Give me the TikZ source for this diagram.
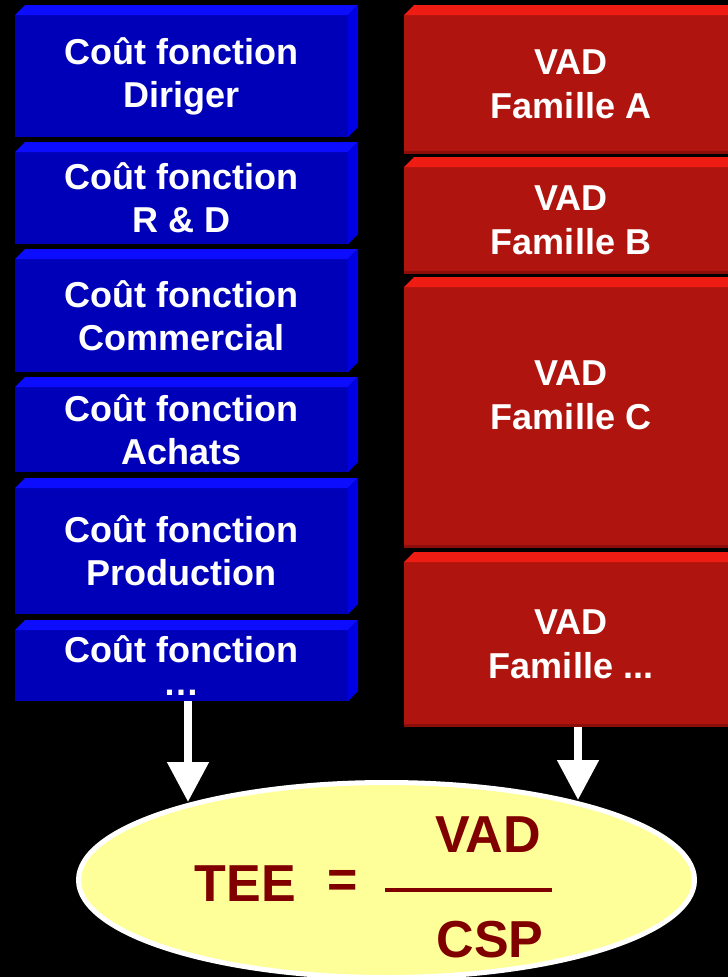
\documentclass[tikz,border=0pt]{standalone}
\usepackage{fontspec}
\setmainfont{Liberation Sans}
\usetikzlibrary{shapes.geometric,arrows.meta}

\definecolor{bluefront}{RGB}{0,0,184}
\definecolor{bluetop}{RGB}{12,12,255}
\definecolor{blueside}{RGB}{0,0,228}
\definecolor{redfront}{RGB}{176,20,14}
\definecolor{redtop}{RGB}{238,28,18}
\definecolor{rededge}{RGB}{140,14,10}
\definecolor{eqyellow}{RGB}{255,255,153}
\definecolor{eqred}{RGB}{128,0,0}

\begin{document}
\begin{tikzpicture}[x=1pt,y=-1pt,
	costbox/.style={fill=bluefront,anchor=north west,minimum width=333,inner sep=0,outer sep=0,text=white,font=\fontsize{36}{43}\selectfont\bfseries,align=center},
	vadbox/.style={fill=redfront,anchor=north west,minimum width=334,inner sep=0,outer sep=0,text=white,font=\fontsize{36}{44}\selectfont\bfseries,align=center},
	eqtext/.style={text=eqred,inner sep=0,font=\fontsize{52}{60}\selectfont\bfseries},
	bigarrow/.style={white,line width=8,-{Triangle[length=40pt,width=40pt]}}]
	\useasboundingbox (0,0) rectangle (728,977);
	\clip (0,0) rectangle (728,977);
	\fill[black] (0,0) rectangle (728,977);
	% cost functions
	\node[costbox,minimum height=122] (diriger) at (15,15) {Coût fonction\\Diriger};
	\node[costbox,minimum height=92] (rd) at (15,152) {Coût fonction\\R \& D};
	\node[costbox,minimum height=113] (commercial) at (15,259) {Coût fonction\\Commercial};
	\node[costbox,minimum height=85] (achats) at (15,387) {Coût fonction\\Achats};
	\node[costbox,minimum height=126] (production) at (15,488) {Coût fonction\\Production};
	\node[costbox,minimum height=71] (etc) at (15,630) {Coût fonction\\[-10pt]…};
	\foreach \b in {diriger,rd,commercial,achats,production,etc}{
		\fill[bluetop] (\b.north west) -- ++(10,-10) -- ([xshift=10pt,yshift=10pt]\b.north east) -- (\b.north east) -- cycle;
		\fill[blueside] (\b.north east) -- ++(10,-10) -- ([xshift=10pt,yshift=10pt]\b.south east) -- (\b.south east) -- cycle;
	}
	% families
	\node[vadbox,minimum height=139] (famA) at (404,15) {VAD\\Famille A};
	\node[vadbox,minimum height=107] (famB) at (404,167) {VAD\\Famille B};
	\node[vadbox,minimum height=261] (famC) at (404,287) {};
	\node[vadbox,minimum height=165] (famD) at (404,562) {VAD\\Famille ...};
	\node[text=white,font=\fontsize{36}{44}\selectfont\bfseries,align=center,yshift=22pt] (famCtext) at (famC) {VAD\\Famille C};
	\foreach \r in {famA,famB,famC,famD}{
		\fill[redtop] (\r.north west) -- ++(10,-10) -- ([xshift=10pt,yshift=10pt]\r.north east) -- (\r.north east) -- cycle;
		\fill[rededge] ([yshift=3pt]\r.south west) rectangle (\r.south east);
	}
	% ratio
	\node[ellipse,draw=white,line width=5,fill=eqyellow,minimum width=616,minimum height=195] (ratio) at (386.5,880) {};
	\node[eqtext] (tee) at (245.5,884) {TEE};
	\node[eqtext] (equals) at (343,884) {=};
	\node[eqtext] (vad) at (488,835) {VAD};
	\node[eqtext] (csp) at (490,940) {CSP};
	\draw[eqred,line width=4] (385,890) -- (552,890);
	\coordinate (tipL) at (188,802);
	\coordinate (tipR) at (578,800);
	\draw[bigarrow] (etc.south -| tipL) -- (tipL);
	\draw[bigarrow] (famD.south -| tipR) -- (tipR);
\end{tikzpicture}
\end{document}
